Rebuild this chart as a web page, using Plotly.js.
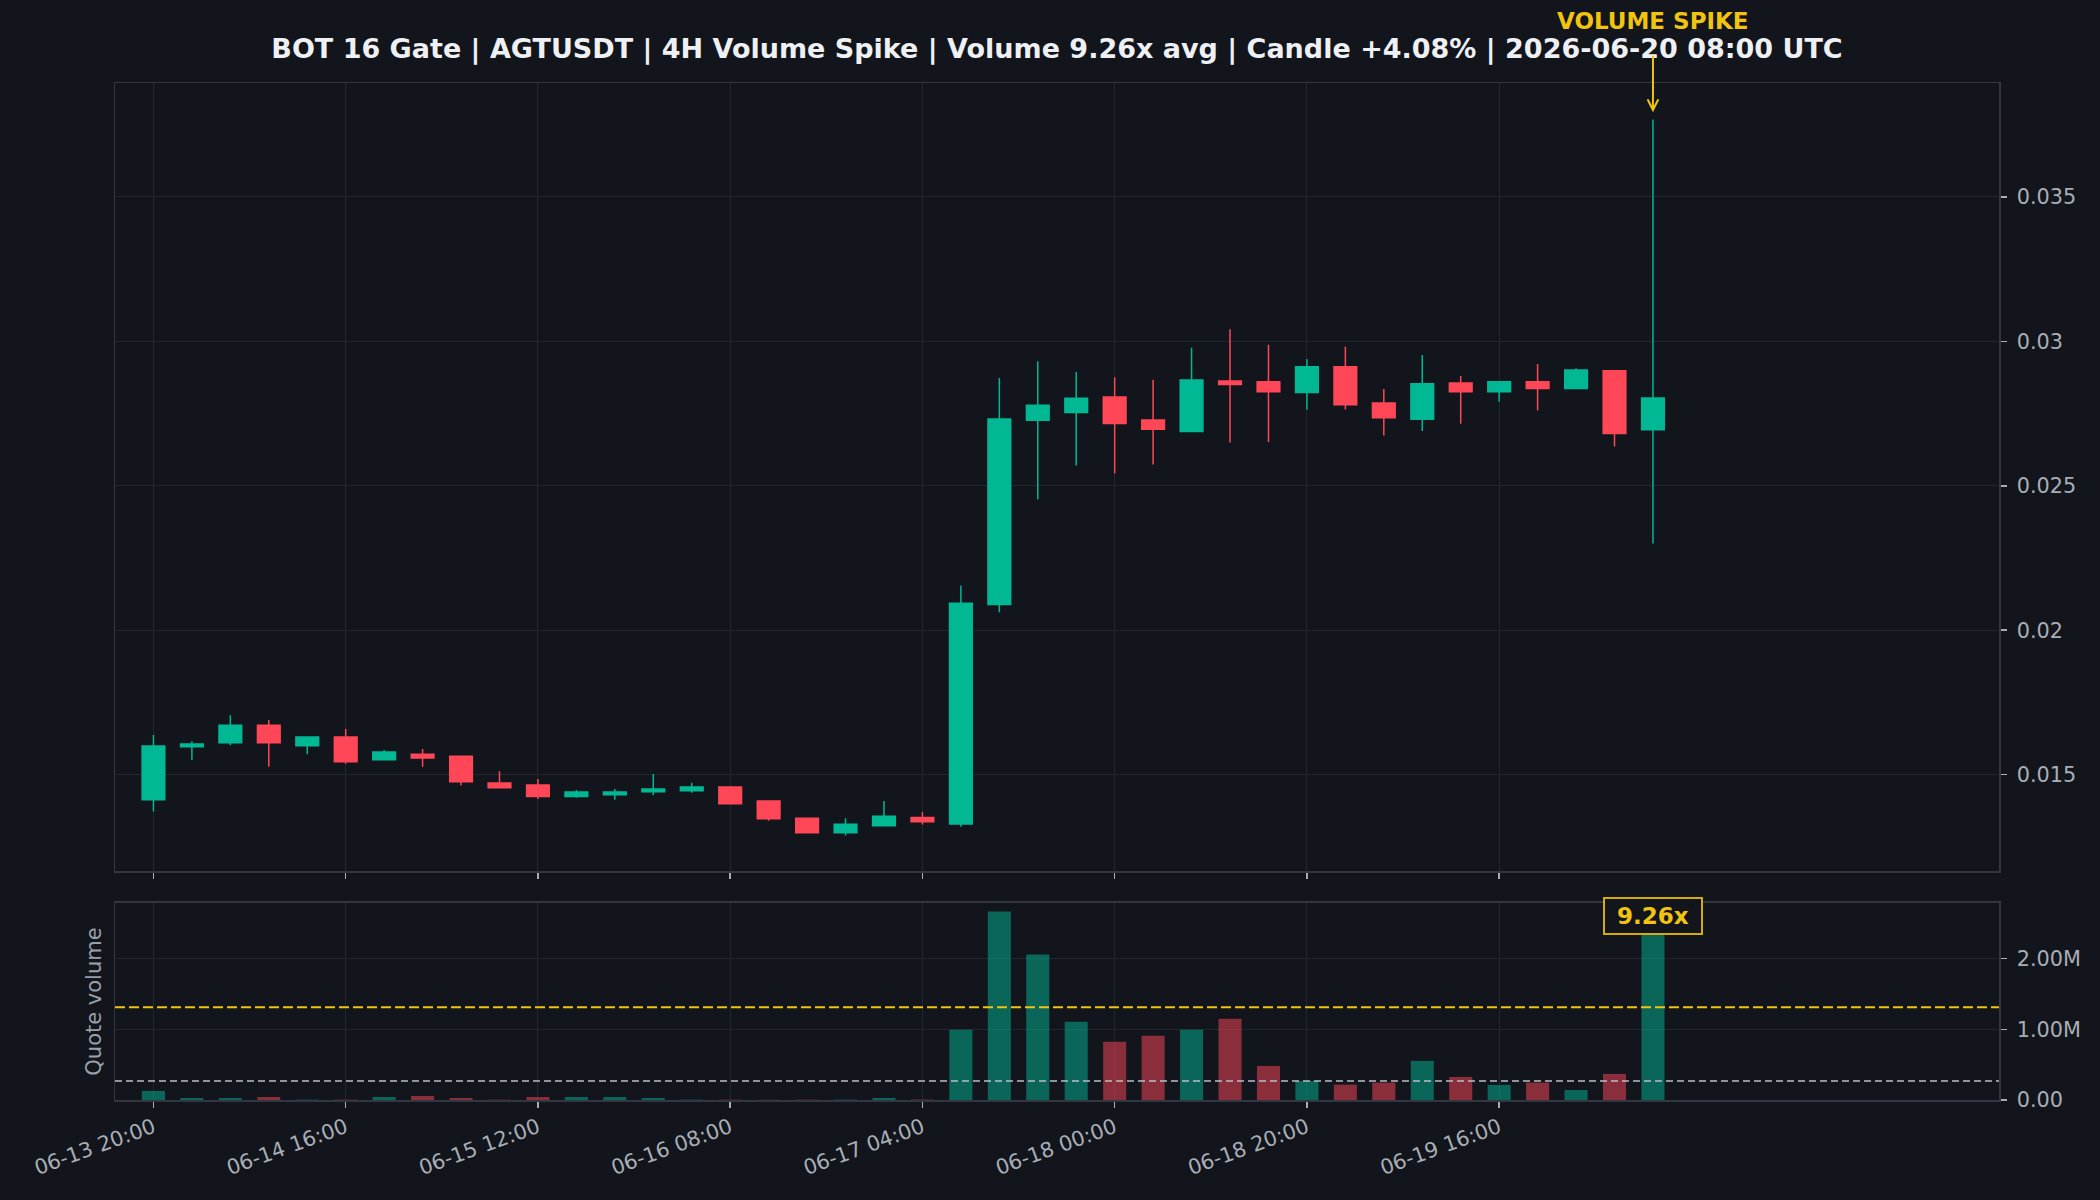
<!DOCTYPE html>
<html>
<head>
<meta charset="utf-8">
<script src="https://cdn.plot.ly/plotly-3.0.1.min.js"></script>
<style>
  html, body { margin: 0; padding: 0; background: #12151c; }
  #chart { width: 2100px; height: 1200px; }
</style>
</head>
<body>
<div id="chart"></div>
<script>
// ---------------- data ----------------
const times = [
  '2026-06-13 20:00','2026-06-14 00:00','2026-06-14 04:00','2026-06-14 08:00','2026-06-14 12:00',
  '2026-06-14 16:00','2026-06-14 20:00','2026-06-15 00:00','2026-06-15 04:00','2026-06-15 08:00',
  '2026-06-15 12:00','2026-06-15 16:00','2026-06-15 20:00','2026-06-16 00:00','2026-06-16 04:00',
  '2026-06-16 08:00','2026-06-16 12:00','2026-06-16 16:00','2026-06-16 20:00','2026-06-17 00:00',
  '2026-06-17 04:00','2026-06-17 08:00','2026-06-17 12:00','2026-06-17 16:00','2026-06-17 20:00',
  '2026-06-18 00:00','2026-06-18 04:00','2026-06-18 08:00','2026-06-18 12:00','2026-06-18 16:00',
  '2026-06-18 20:00','2026-06-19 00:00','2026-06-19 04:00','2026-06-19 08:00','2026-06-19 12:00',
  '2026-06-19 16:00','2026-06-19 20:00','2026-06-20 00:00','2026-06-20 04:00','2026-06-20 08:00'
];
const openP = [
  0.01413,0.01597,0.01610,0.01671,0.01600,0.01630,0.01552,0.01571,0.01564,0.01471,
  0.01464,0.01424,0.01430,0.01441,0.01444,0.01457,0.01409,0.01349,0.01299,0.01323,
  0.01352,0.01329,0.02089,0.02727,0.02754,0.02807,0.02728,0.02688,0.02863,0.02860,
  0.02823,0.02912,0.02787,0.02730,0.02856,0.02826,0.02860,0.02837,0.02898,0.02694
];
const highP = [
  0.01637,0.01616,0.01706,0.01689,0.01632,0.01658,0.01585,0.01589,0.01566,0.01512,
  0.01485,0.01447,0.01450,0.01502,0.01472,0.01461,0.01410,0.01350,0.01349,0.01409,
  0.01371,0.02155,0.02873,0.02931,0.02894,0.02876,0.02867,0.02978,0.03042,0.02988,
  0.02938,0.02981,0.02835,0.02953,0.02880,0.02863,0.02922,0.02907,0.02901,0.03768
];
const lowP = [
  0.01372,0.01551,0.01602,0.01527,0.01571,0.01538,0.01550,0.01527,0.01462,0.01454,
  0.01416,0.01420,0.01413,0.01429,0.01437,0.01398,0.01340,0.01298,0.01289,0.01322,
  0.01327,0.01320,0.02062,0.02453,0.02570,0.02543,0.02574,0.02686,0.02650,0.02652,
  0.02763,0.02764,0.02674,0.02690,0.02715,0.02791,0.02761,0.02836,0.02636,0.02300
];
const closeP = [
  0.01599,0.01606,0.01671,0.01610,0.01630,0.01545,0.01578,0.01558,0.01475,0.01455,
  0.01424,0.01440,0.01440,0.01450,0.01457,0.01399,0.01347,0.01299,0.01328,0.01356,
  0.01337,0.02093,0.02731,0.02779,0.02803,0.02716,0.02696,0.02866,0.02851,0.02826,
  0.02912,0.02781,0.02736,0.02853,0.02826,0.02860,0.02837,0.02901,0.02681,0.02804
];
const quoteVolume = [
  128000,28000,28000,42000,5000,5000,42000,57000,28000,4000,
  42000,42000,42000,28000,4000,4000,3000,4000,5000,28000,
  6000,993000,2667000,2057000,1106000,823000,908000,993000,1149000,482000,
  270000,217000,246000,553000,326000,213000,246000,142000,369000,2500000
];
const avgVolume = 270000;        // grey dashed line
const thresholdVolume = 1310000; // yellow dashed line
const spikeRatioLabel = '9.26x';
const spikeArrowTip = 0.03793;
const spikeLabelVolume = 2600000;

const xTickVals = ['2026-06-13 20:00','2026-06-14 16:00','2026-06-15 12:00','2026-06-16 08:00',
                   '2026-06-17 04:00','2026-06-18 00:00','2026-06-18 20:00','2026-06-19 16:00'];
const xTickLabels = ['06-13 20:00','06-14 16:00','06-15 12:00','06-16 08:00',
                     '06-17 04:00','06-18 00:00','06-18 20:00','06-19 16:00'];
const xRange = ['2026-06-13 16:00','2026-06-21 20:00'];
const priceTicks = [0.015,0.02,0.025,0.03,0.035];
const priceTickLabels = ['0.015','0.02','0.025','0.03','0.035'];
const priceRange = [0.011654,0.038945];
const volTicks = [0,1000000,2000000];
const volTickLabels = ['0.00','1.00M','2.00M'];
const volRange = [0,2790000];

const titleText = 'BOT 16 Gate | AGTUSDT | 4H Volume Spike | Volume 9.26x avg | Candle +4.08% | 2026-06-20 08:00 UTC';

// ---------------- styles ----------------
const BG = '#12151c';
const UP = '#00b894';
const DOWN = '#ff4757';
const UP_VOL = 'rgba(0,184,148,0.5)';
const DOWN_VOL = 'rgba(255,71,87,0.5)';
const GRID = '#22272f';
const FRAME = '#313640';
const TICKC = '#a9aeb6';
const YELLOW = '#f1c40f';
const FONT = 'DejaVu Sans, Liberation Sans, sans-serif';
const TICKSIZE = 20.8;

const volColors = openP.map((o, i) => closeP[i] >= o ? UP_VOL : DOWN_VOL);

const candle = {
  type: 'candlestick', x: times, open: openP, high: highP, low: lowP, close: closeP,
  xaxis: 'x', yaxis: 'y',
  increasing: { line: { color: UP, width: 1.5 }, fillcolor: UP },
  decreasing: { line: { color: DOWN, width: 1.5 }, fillcolor: DOWN },
  whiskerwidth: 0, hoverinfo: 'skip', showlegend: false
};
const vol = {
  type: 'bar', x: times, y: quoteVolume, xaxis: 'x2', yaxis: 'y2',
  marker: { color: volColors, line: { width: 0 } },
  hoverinfo: 'skip', showlegend: false
};

const xCommon = {
  type: 'date', range: xRange, tickvals: xTickVals, ticktext: xTickLabels,
  showgrid: true, gridcolor: GRID, gridwidth: 1,
  showline: true, mirror: true, linecolor: FRAME, linewidth: 1.5,
  ticks: 'outside', ticklen: 6, tickwidth: 1.5, tickcolor: TICKC,
  zeroline: false, fixedrange: true
};
const yCommon = {
  side: 'right', showgrid: true, gridcolor: GRID, gridwidth: 1,
  showline: true, mirror: true, linecolor: FRAME, linewidth: 1.5,
  ticks: 'outside', ticklen: 6, tickwidth: 1.5, tickcolor: TICKC,
  tickfont: { family: FONT, size: TICKSIZE, color: TICKC },
  ticklabelstandoff: 6,
  zeroline: false, fixedrange: true
};

const layout = {
  width: 2100, height: 1200,
  paper_bgcolor: BG, plot_bgcolor: BG,
  margin: { l: 115, r: 101, t: 83, b: 100 },
  font: { family: FONT, color: TICKC },
  title: {
    text: titleText, x: 0.5, xref: 'paper', y: 1 - 49 / 1200, yref: 'container', yanchor: 'middle',
    font: { family: FONT, size: 27, weight: 700, color: '#eef0f3' }
  },
  showlegend: false,
  boxgap: 0.41, boxgroupgap: 0, bargap: 0.4,
  xaxis: Object.assign({}, xCommon, { anchor: 'y', showticklabels: false, rangeslider: { visible: false } }),
  xaxis2: Object.assign({}, xCommon, {
    anchor: 'y2', matches: 'x', showticklabels: true, tickangle: -20,
    tickfont: { family: FONT, size: TICKSIZE, color: TICKC }
  }),
  yaxis: Object.assign({}, yCommon, {
    domain: [0.22488, 1], range: priceRange, tickvals: priceTicks, ticktext: priceTickLabels
  }),
  yaxis2: Object.assign({}, yCommon, {
    domain: [0, 0.194], range: volRange, tickvals: volTicks, ticktext: volTickLabels
  }),
  shapes: [
    { type: 'line', xref: 'paper', x0: 0, x1: 1, yref: 'y2', y0: thresholdVolume, y1: thresholdVolume,
      line: { color: YELLOW, width: 2, dash: '10px,4px' }, layer: 'above' },
    { type: 'line', xref: 'paper', x0: 0, x1: 1, yref: 'y2', y0: avgVolume, y1: avgVolume,
      line: { color: '#b9bec6', width: 1.5, dash: '7px,4px' }, layer: 'above' }
  ],
  annotations: [
    { text: 'VOLUME SPIKE', xref: 'x', x: times[times.length - 1], yref: 'paper', y: 1.061,
      showarrow: false, xanchor: 'center', yanchor: 'middle', borderpad: 0,
      font: { family: FONT, size: 23, weight: 700, color: YELLOW } },
    { text: '', xref: 'x', x: times[times.length - 1], yref: 'y', y: spikeArrowTip,
      showarrow: true, ax: 0, ay: -57, arrowhead: 5, arrowsize: 1.05, arrowwidth: 2,
      arrowcolor: YELLOW, standoff: 0, font: { size: 1 }, borderpad: 0 },
    { text: ' ' + spikeRatioLabel + ' ', xref: 'x2', x: times[times.length - 1], yref: 'y2', y: spikeLabelVolume,
      showarrow: false, xanchor: 'center', yanchor: 'middle',
      bgcolor: BG, bordercolor: '#d4ac0d', borderwidth: 2, borderpad: 4,
      font: { family: FONT, size: 23, weight: 700, color: YELLOW } },
    { text: 'Quote volume', xref: 'paper', x: -0.0113, yref: 'paper', y: 0.0964,
      showarrow: false, textangle: -90, xanchor: 'center', yanchor: 'middle',
      font: { family: FONT, size: 21, color: '#9aa0a8' } }
  ]
};

Plotly.newPlot('chart', [candle, vol], layout, { staticPlot: true, displayModeBar: false });
</script>
</body>
</html>
